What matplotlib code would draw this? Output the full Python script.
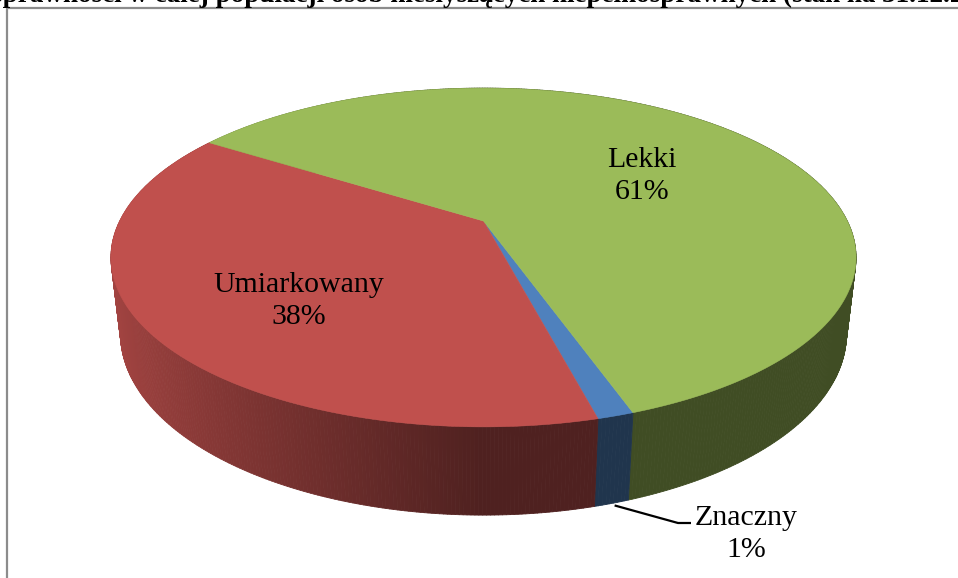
import numpy as np
import matplotlib
matplotlib.use("Agg")
import matplotlib.pyplot as plt
from matplotlib.collections import PolyCollection
from matplotlib.patches import Polygon
import matplotlib.colors as mcolors

# ---------------- data ----------------
categories = ["Znaczny", "Umiarkowany", "Lekki"]
values = [1.3, 38.1, 60.6]
colors = ["#4F81BD", "#C0504D", "#9BBB59"]
title_text = "sprawności w całej populacji osób niesłyszących niepełnosprawnych (stan na 31.12.2012"

# ---------------- figure ----------------
W, H = 958, 578
fig = plt.figure(figsize=(W / 100, H / 100), dpi=100)
ax = fig.add_axes([0, 0, 1, 1])
ax.set_xlim(0, W)
ax.set_ylim(H, 0)
ax.axis("off")

# ---------------- 3D perspective pie model ----------------
CX, CY = 483.5, 221.0
F = 363.8
SIN_E = 0.444
COS_E = np.sqrt(1 - SIN_E ** 2)
K = 0.2154
D = COS_E / K
DEPTH = 0.235
START = -70.9  # degrees, slices run clockwise


def project(x, y, z):
    yc = y * SIN_E + z * COS_E
    zc = D + y * COS_E - z * SIN_E
    return CX + F * D * x / zc, CY - F * D * yc / zc


def shade(rgb, t):
    f = 0.41 + 0.46 * max(0.0, -np.cos(t))
    return tuple(np.clip(np.array(rgb) * f, 0, 1))


total = sum(values)
angles = []
cum = 0.0
for v in values:
    t1 = START - cum / total * 360.0
    t2 = t1 - v / total * 360.0
    angles.append((t1, t2))
    cum += v

# walls
quads, qcols, depths = [], [], []
for (t1, t2), col in zip(angles, colors):
    rgb = mcolors.to_rgb(col)
    n = max(3, int(abs(t2 - t1) / 0.5))
    ts = np.radians(np.linspace(t1, t2, n + 1))
    for a, b in zip(ts[:-1], ts[1:]):
        p1 = project(np.cos(a), np.sin(a), 0)
        p2 = project(np.cos(b), np.sin(b), 0)
        p3 = project(np.cos(b), np.sin(b), -DEPTH)
        p4 = project(np.cos(a), np.sin(a), -DEPTH)
        quads.append([p1, p2, p3, p4])
        c = shade(rgb, (a + b) / 2)
        qcols.append(c)
        depths.append(np.sin((a + b) / 2))
order = np.argsort(depths)[::-1]
pc = PolyCollection([quads[i] for i in order], facecolors=[qcols[i] for i in order],
                    edgecolors=[qcols[i] for i in order], linewidths=0.6, antialiased=True)
ax.add_collection(pc)

# top faces
for (t1, t2), col in zip(angles, colors):
    n = max(3, int(abs(t2 - t1) / 0.5))
    ts = np.radians(np.linspace(t1, t2, n + 1))
    pts = [project(0, 0, 0)] + [project(np.cos(t), np.sin(t), 0) for t in ts]
    ax.add_patch(Polygon(pts, closed=True, facecolor=col, edgecolor=col, linewidth=0.4))

# ---------------- labels ----------------
lab_font = dict(family="Liberation Serif", fontsize=21.5, color="black",
                ha="center", va="center", linespacing=1.3)


def pct(v):
    return f"{int(np.floor(v / total * 100 + 0.5))}%"


label_pos = {"Lekki": (642, 176), "Umiarkowany": (299, 301), "Znaczny": (746, 534)}
for cat, v in zip(categories, values):
    x, y = label_pos[cat]
    ax.text(x, y, f"{cat}\n{pct(v)}", **lab_font)

# leader line for the small slice
i_small = categories.index("Znaczny")
tm = np.radians(sum(angles[i_small]) / 2)
sx, sy = project(np.cos(tm), np.sin(tm), -DEPTH)
ax.plot([sx + 3, 678, 691], [sy + 2, 523, 523], color="black", lw=1.6,
        solid_capstyle="butt")

# ---------------- frame and clipped title ----------------
ax.plot([7, 7], [H + 5, 8], color="#8c8c8c", lw=1.6, solid_capstyle="butt")
ax.plot([7, W + 5], [8, 8], color="#8c8c8c", lw=1.6, solid_capstyle="butt")
ax.text(-8, 1.5, title_text, family="Liberation Serif", fontweight="bold",
        fontsize=19.5, ha="left", va="baseline", color="black")

fig.savefig("out.png", dpi=100)
